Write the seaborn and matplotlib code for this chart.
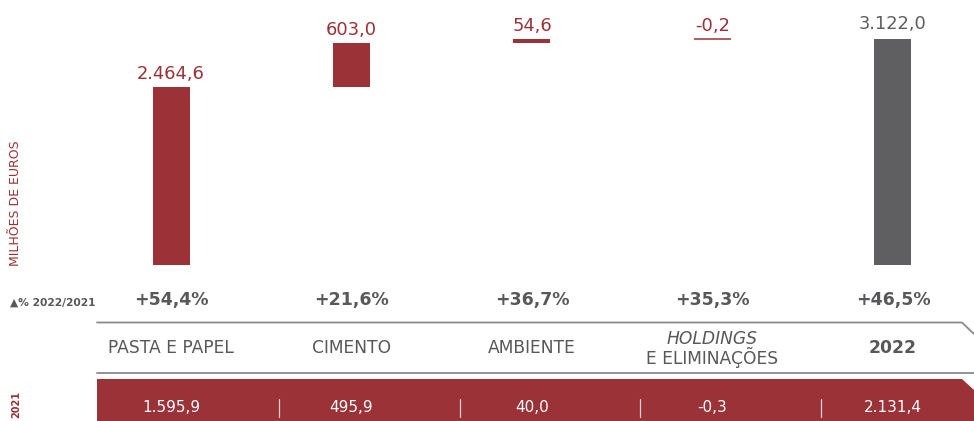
import matplotlib
matplotlib.use("Agg")
import matplotlib.pyplot as plt
import matplotlib.transforms as mtransforms
from matplotlib.patches import Polygon
import numpy as np
import pandas as pd
import seaborn as sns

# data (milhoes de euros)
keys = ["pasta", "cimento", "ambiente", "holdings", "total"]
categories = ["PASTA E PAPEL", "CIMENTO", "AMBIENTE", "HOLDINGS", "2022"]
values_2022 = [2464.6, 603.0, 54.6, -0.2, 3122.0]
growth = [54.4, 21.6, 36.7, 35.3, 46.5]
values_2021 = [1595.9, 495.9, 40.0, -0.3, 2131.4]

RED = "#9a3237"
GREY_BAR = "#5f5f61"
TXT = "#58585a"
LINE = "#8a8a8c"


def pt_fmt(v):
    s = f"{v:,.1f}"
    return s.replace(",", "X").replace(".", ",").replace("X", ".")


sns.set_theme(style="white")
plt.rcParams["font.family"] = ["DejaVu Sans"]

fig = plt.figure(figsize=(9.74, 4.21), dpi=100)
W, H = 974, 421

# waterfall geometry
steps = np.array(values_2022[:-1])
ends = np.cumsum(steps)
starts = ends - steps
bottoms = np.append(starts, 0)
tops = np.append(ends, values_2022[-1])
lo = np.minimum(bottoms, tops)
hi = np.maximum(bottoms, tops)

df = pd.DataFrame({"cat": keys, "top": hi})
colors = [RED, RED, RED, RED, GREY_BAR]

ax = fig.add_axes([97 / W, (H - 265) / H, (W - 97) / W, 265 / H])
sns.barplot(df, x="cat", y="top", hue="cat", palette=colors, width=0.205,
            saturation=1, legend=False, ax=ax)
for p, b, t, c in zip(ax.patches, lo, hi, colors):
    p.set_y(b)
    p.set_height(t - b)
    p.set_edgecolor(c)
    p.set_linewidth(0)
# the holdings bar is too small to see, draw it as a thin line
ax.patches[3].set_linewidth(1.1)

ax.set_xlim(-0.41, 4.449)
ax.set_ylim(0, 3122.0 * 265 / 226)
ax.axis("off")
ax.patch.set_alpha(0)

for i, (t, v) in enumerate(zip(hi, values_2022)):
    col = GREY_BAR if i == 4 else RED
    off = 10 if i == 4 else 8
    ax.annotate(pt_fmt(v), (i, t), xytext=(0, off * 0.72), textcoords="offset points",
                ha="center", va="baseline", fontsize=12.9, color=col)

# table area below the bars, y in pixels
over = fig.add_axes([0, 0, 1, 1])
over.set_xlim(0, W)
over.set_ylim(H, 0)
over.axis("off")
over.patch.set_alpha(0)
tr = mtransforms.blended_transform_factory(ax.transData, over.transData)

over.plot([97, 962, 974], [322.5, 322.5, 334], color=LINE, lw=1.3)
over.plot([97, 974], [372.5, 372.5], color=LINE, lw=1.3)
over.add_patch(Polygon([[97, 379], [962, 379], [974, 390], [974, 421], [97, 421]],
                       closed=True, facecolor=RED, edgecolor="none"))

for i, g in enumerate(growth):
    over.text(i, 300, "+" + pt_fmt(g) + "%", transform=tr, ha="center", va="center",
              fontsize=12.5, fontweight="bold", color=TXT)

for i, c in enumerate(categories):
    if c == "HOLDINGS":
        over.text(i, 339, c, transform=tr, ha="center", va="center",
                  fontsize=12.3, style="italic", color=TXT)
        over.text(i, 357, "E ELIMINAÇÕES", transform=tr, ha="center", va="center",
                  fontsize=12.3, color=TXT)
    else:
        over.text(i, 348, c, transform=tr, ha="center", va="center", fontsize=12.3,
                  color=TXT, fontweight="bold" if c == "2022" else "normal")

for i, v in enumerate(values_2021):
    over.text(i, 408, pt_fmt(v), transform=tr, ha="center", va="center",
              fontsize=11, color="white")
for s in np.arange(4) + 0.6:
    over.plot([s, s], [399, 417], transform=tr, color="#e6d2d3", lw=0.9)

over.text(10, 303, "▲% 2022/2021", ha="left", va="center", fontsize=7.7,
          fontweight="bold", color=TXT)
over.text(16, 404, "2021", ha="center", va="center", rotation=90, fontsize=7,
          fontweight="bold", color=RED)
over.text(16, 203, "MILHÕES DE EUROS", ha="center", va="center", rotation=90,
          fontsize=9, color=RED)

fig.savefig("out.png", dpi=100)
